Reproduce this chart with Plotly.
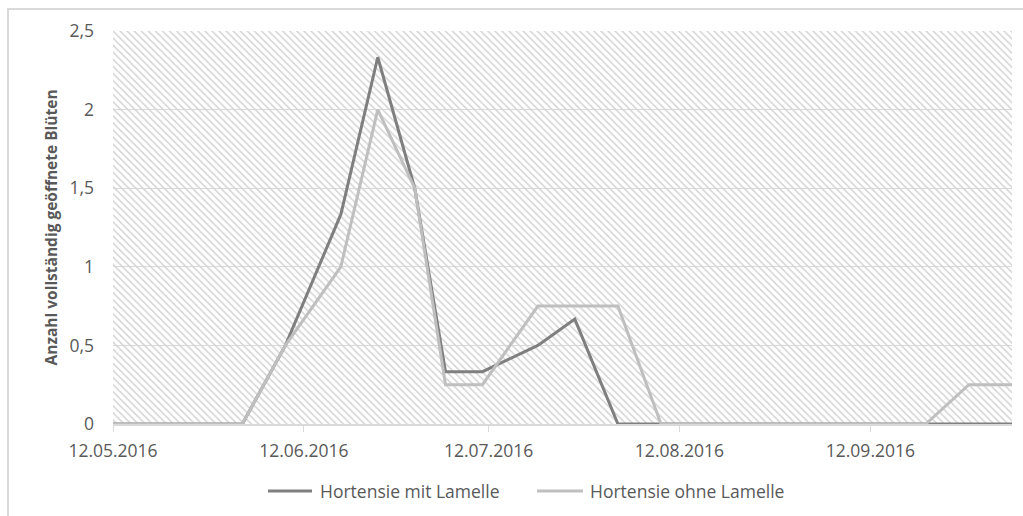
import plotly.graph_objects as go

# Measurement dates and mean counts of fully opened blossoms
dates = [
    "2016-05-12", "2016-06-02", "2016-06-09", "2016-06-18", "2016-06-24",
    "2016-06-30", "2016-07-05", "2016-07-11", "2016-07-20", "2016-07-26",
    "2016-08-02", "2016-08-09", "2016-09-21", "2016-09-28", "2016-10-05",
]
mit_lamelle = [0, 0, 0.5, 1.333, 2.333, 1.5, 0.333, 0.333, 0.5, 0.667,
               0, 0, 0, 0, 0]
ohne_lamelle = [0, 0, 0.5, 1.0, 2.0, 1.5, 0.25, 0.25, 0.75, 0.75,
                0.75, 0, 0, 0.25, 0.25]

series_names = ["Hortensie mit Lamelle", "Hortensie ohne Lamelle"]
series_colors = ["#7f7f7f", "#bfbfbf"]

x_tick_vals = ["2016-05-12", "2016-06-12", "2016-07-12", "2016-08-12", "2016-09-12"]
x_tick_text = ["12.05.2016", "12.06.2016", "12.07.2016", "12.08.2016", "12.09.2016"]
y_tick_vals = [0, 0.5, 1, 1.5, 2, 2.5]
y_max = 2.5
y_title = "Anzahl vollständig geöffnete Blüten"

FONT = "Open Sans"
TEXT_COLOR = "#595959"
GRID_COLOR = "#d9d9d9"
FONT_SIZE = 17.5

W, H = 1023, 516
L, R, T, B = 113, 11, 31, 92
plot_w = W - L - R
plot_h = H - T - B


def px_x(px):
    """Horizontal pixel position -> paper coordinate."""
    return (px - L) / plot_w


def px_y(py):
    """Vertical pixel position (from top) -> paper coordinate."""
    return (T + plot_h - py) / plot_h


fig = go.Figure()

# Hatched plot-area background
fig.add_trace(go.Scatter(
    x=[dates[0], dates[0], dates[-1], dates[-1], dates[0]],
    y=[0, y_max, y_max, 0, 0],
    mode="lines",
    line=dict(width=0, color="rgba(0,0,0,0)"),
    fill="toself",
    fillcolor="rgba(0,0,0,0)",
    fillpattern=dict(shape="\\", size=5, solidity=0.3,
                     fgcolor="#d4d4d4", fgopacity=1),
    hoverinfo="skip",
    showlegend=False,
))

for name, vals, color in zip(series_names, [mit_lamelle, ohne_lamelle], series_colors):
    fig.add_trace(go.Scatter(
        x=dates, y=vals, name=name, mode="lines",
        line=dict(color=color, width=3),
        showlegend=False,
    ))

# Outer chart frame (top and left edges visible)
fig.add_shape(
    type="rect", xref="paper", yref="paper",
    x0=px_x(8), x1=1.1,
    y0=-0.5, y1=px_y(9),
    line=dict(color=GRID_COLOR, width=2),
    layer="below",
)

# Legend below the plot: line sample followed by the series name
legend_y = 491
legend_items = [(268, 312, 318), (537, 583, 588)]
for (sx0, sx1, tx), name, color in zip(legend_items, series_names, series_colors):
    fig.add_shape(
        type="line", xref="paper", yref="paper",
        x0=px_x(sx0), x1=px_x(sx1), y0=px_y(legend_y), y1=px_y(legend_y),
        line=dict(color=color, width=3),
    )
    fig.add_annotation(
        text=name, xref="paper", yref="paper",
        x=px_x(tx), y=px_y(legend_y),
        xanchor="left", yanchor="middle", showarrow=False,
        font=dict(family=FONT, size=FONT_SIZE, color=TEXT_COLOR),
    )

fig.add_annotation(
    text=y_title, textangle=-90,
    xref="paper", yref="paper",
    x=px_x(50), y=0.5,
    xanchor="center", yanchor="middle",
    showarrow=False,
    font=dict(family=FONT, size=15.5, color=TEXT_COLOR, weight="bold"),
)

fig.update_layout(
    width=W, height=H,
    margin=dict(l=L, r=R, t=T, b=B, pad=0),
    paper_bgcolor="white",
    plot_bgcolor="white",
    separators=",.",
    font=dict(family=FONT, size=FONT_SIZE, color=TEXT_COLOR),
    showlegend=False,
    xaxis=dict(
        type="date",
        range=[dates[0], dates[-1]],
        tickvals=x_tick_vals, ticktext=x_tick_text,
        ticks="outside", ticklen=6, tickcolor=GRID_COLOR, tickwidth=1,
        showgrid=False, zeroline=False,
        showline=True, linecolor=GRID_COLOR, linewidth=2,
        ticklabelstandoff=4,
    ),
    yaxis=dict(
        range=[0, y_max],
        tickvals=y_tick_vals,
        showgrid=True, gridcolor=GRID_COLOR, gridwidth=1,
        zeroline=False, showline=False,
        ticks="", ticklabelstandoff=18,
    ),
)

fig.write_html("out.html")
